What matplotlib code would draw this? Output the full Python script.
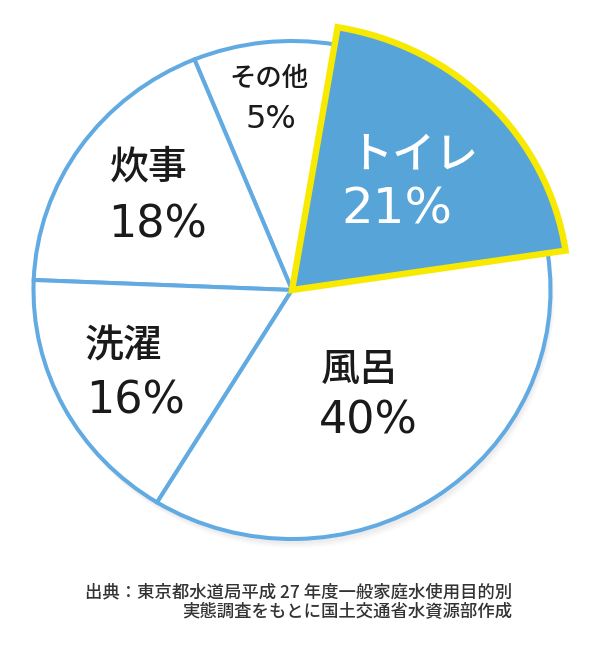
import numpy as np
import matplotlib
matplotlib.use("Agg")
import matplotlib.pyplot as plt
from matplotlib.patches import Ellipse

# data (counterclockwise from the toilet slice)
names = ["トイレ", "その他", "炊事", "洗濯", "風呂"]
pct = [21, 5, 18, 16, 40]
# slice sizes as they are drawn in the illustration (not to scale with pct)
drawn = [20.0, 8.8, 18.2, 16.9, 36.1]
source_lines = ["出典：東京都水道局平成 27 年度一般家庭水使用目的別",
                "実態調査をもとに国土交通省水資源部作成"]

# style
blue_line = "#62abe2"
toilet_fill = "#57a5d8"
yellow = "#f7ea00"
fills = [toilet_fill, "white", "white", "white", "white"]
txt_col = ["white", "#1a1a1a", "#1a1a1a", "#1a1a1a", "#1a1a1a"]
name_fs = [31, 19, 28, 28, 28]
pct_fs = [36, 23, 32, 32, 32]
lab_dist = [0.616, 0.773, 0.655, 0.714, 0.506]
lab_gap = [55, 41, 58, 54, 51]
lab_shift = [8.5, -1, -4.5, -6, -4.5]

ASP = 249 / 258.5          # the pie is slightly squashed vertically
W, H = 600, 652

fig = plt.figure(figsize=(6, 6.52), dpi=100)
ax = fig.add_axes([0, 0, 1, 1])

cx, cy, R = 292, (H - 290) / ASP, 258.5

# soft shadow under the pie
for k, a in enumerate([0.10, 0.08, 0.06]):
    sh = Ellipse((cx + 2 + k, cy - (5 + 2 * k) / ASP), 2 * R, 2 * R,
                 facecolor="#b8b0b0", edgecolor="none", alpha=a, zorder=0)
    ax.add_patch(sh)

wedges, _ = ax.pie(drawn, startangle=8.5, counterclock=True, center=(cx, cy),
                   radius=R, colors=fills,
                   wedgeprops=dict(edgecolor=blue_line, linewidth=2.9))

toilet = wedges[0]
toilet.set_radius(R * 1.07)
toilet.set_edgecolor(yellow)
toilet.set_linewidth(4.6)
toilet.set_joinstyle("miter")
toilet.set_zorder(5)

for i, w in enumerate(wedges):
    mid = np.deg2rad((w.theta1 + w.theta2) / 2)
    x = cx + lab_dist[i] * R * np.cos(mid)
    y = cy + lab_dist[i] * R * np.sin(mid)
    g = lab_gap[i] / 2 / ASP
    ax.text(x + lab_shift[i], y + g, names[i], ha="center", va="center",
            fontsize=name_fs[i], color=txt_col[i], fontweight="medium",
            family=["Noto Sans CJK JP", "DejaVu Sans"], zorder=6)
    ax.text(x - lab_shift[i], y - g, f"{pct[i]}%", ha="center", va="center",
            fontsize=pct_fs[i], color=txt_col[i], family=["DejaVu Sans"], zorder=6)

# source note
for j, s in enumerate(source_lines):
    ax.text(512, (H - 592 - 20 * j) / ASP, s, ha="right", va="center",
            fontsize=12.5, color="#333333", fontweight="medium",
            family=["Noto Sans CJK JP", "DejaVu Sans"])

ax.set_xlim(0, W)
ax.set_ylim(0, H / ASP)
ax.set_aspect(ASP)
ax.axis("off")

fig.savefig("out.png", dpi=100, facecolor="white")
